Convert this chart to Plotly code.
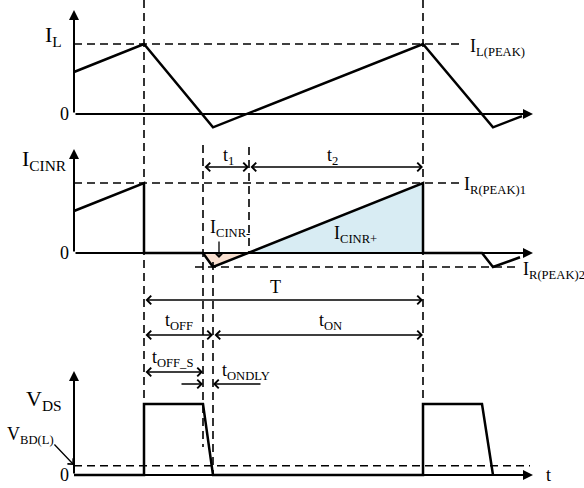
import plotly.graph_objects as go

# time instants (x units, 0 = vertical axes)
T_PEAK1 = 70      # switch off / inductor peak
T_OFFS = 129      # end of t_OFF_S
T_OFF = 139       # end of t_OFF (negative dip)
T_CROSS = 175     # I_CINR crosses zero (t1 / t2 boundary)
T_PEAK2 = 349     # next peak
T_OFFS2 = 408
T_OFF2 = 419
T_AXIS_END = 459

# inductor current I_L (normalised to I_L(PEAK))
il_t = [0, T_PEAK1, T_OFF, T_PEAK2, T_OFF2, 448]
il_v = [0.6, 1.0, -0.19, 1.0, -0.19, -0.03]

# sense current I_CINR (normalised to I_R(PEAK)1)
icinr_t = [0, T_PEAK1, T_PEAK1, T_OFFS, T_OFF, T_PEAK2, T_PEAK2, T_OFFS2, T_OFF2, 446]
icinr_v = [0.6, 1.0, 0, 0, -0.2, 1.0, 0, 0, -0.2, -0.06]
IR_PEAK2 = -0.2

# drain-source voltage V_DS (normalised)
vds_t = [0, T_PEAK1, T_PEAK1, T_OFFS, T_OFF, T_PEAK2, T_PEAK2, T_OFFS2, T_OFF2]
vds_v = [0, 0, 1, 1, 0, 0, 1, 1, 0]
VBD = 0.13

FONT = "Liberation Serif"
W, H = 584, 488
X0 = 74  # pixel column of the vertical axes

# each panel: (zero pixel row, pixels per unit)
panels = {"y": (114, 70), "y2": (253, 70), "y3": (475, 71)}


def yrange(zero_px, unit):
    return [(zero_px - H) / unit, zero_px / unit]


def top_of(ax):
    z, u = panels[ax]
    return z / u


def px_to(ax, py):
    z, u = panels[ax]
    return (z - py) / u


fig = go.Figure()

BLACK = "black"
WAVE = dict(color=BLACK, width=2.5)
DASH = dict(color=BLACK, width=1.6, dash="8px,5px")


def line(x, y, ax, style):
    fig.add_trace(go.Scatter(x=x, y=y, yaxis=ax, mode="lines", line=style,
                             hoverinfo="skip", showlegend=False))


# shaded areas of I_CINR
fig.add_trace(go.Scatter(x=[T_OFFS, T_OFF, T_CROSS], y=[0, IR_PEAK2, 0], yaxis="y2",
                         fill="toself", fillcolor="rgb(250,224,208)", mode="none",
                         hoverinfo="skip", showlegend=False))
fig.add_trace(go.Scatter(x=[T_CROSS, T_PEAK2, T_PEAK2], y=[0, 1, 0], yaxis="y2",
                         fill="toself", fillcolor="rgb(216,236,243)", mode="none",
                         hoverinfo="skip", showlegend=False))

# dashed guides
line([0, 386], [1, 1], "y", DASH)
line([0, 386], [1, 1], "y2", DASH)
line([121, 443], [IR_PEAK2, IR_PEAK2], "y2", DASH)
line([0, 456], [VBD, VBD], "y3", DASH)
line([T_PEAK1, T_PEAK1], [top_of("y3"), 1], "y3", DASH)
line([T_PEAK2, T_PEAK2], [top_of("y3"), 1], "y3", DASH)
line([T_OFFS, T_OFFS], [px_to("y3", 145), px_to("y3", 447)], "y3", DASH)
line([T_OFF, T_OFF], [px_to("y3", 262), 0], "y3", DASH)
line([T_CROSS, T_CROSS], [px_to("y2", 147), 0], "y2", DASH)

# waveforms
line(il_t, il_v, "y", WAVE)
line(icinr_t, icinr_v, "y2", WAVE)
line(vds_t, vds_v, "y3", WAVE)

ann = []


def axis_arrow(ax, x, y, tx, ty):
    ann.append(dict(x=x, y=y, ax=tx, ay=ty, xref="x", yref=ax, axref="x", ayref=ax,
                    text="", showarrow=True, arrowhead=2, arrowsize=1, arrowwidth=2,
                    arrowcolor=BLACK, standoff=0))


for ax in panels:
    axis_arrow(ax, 0, px_to(ax, panels[ax][0] - 104), 0, 0)
    axis_arrow(ax, T_AXIS_END, 0, 0, 0)


def dim(ax, x1, x2, py, both=True):
    y = px_to(ax, py)
    ann.append(dict(x=x2, y=y, ax=x1, ay=y, xref="x", yref=ax, axref="x", ayref=ax,
                    text="", showarrow=True, arrowhead=4, arrowsize=1.3, arrowwidth=1.3,
                    startarrowhead=4, startarrowsize=1.3,
                    arrowside="end+start" if both else "end",
                    arrowcolor=BLACK, standoff=0, startstandoff=0))


dim("y2", T_OFFS, T_CROSS, 167)
dim("y2", T_CROSS, T_PEAK2, 167)
dim("y3", T_PEAK1, T_PEAK2, 300)
dim("y3", T_PEAK1, T_OFF, 335)
dim("y3", T_OFF, T_PEAK2, 335)
dim("y3", T_PEAK1, T_OFFS, 372)
dim("y3", 106, T_OFFS, 384, both=False)
dim("y3", 188, T_OFF, 384, both=False)

# small pointer arrows
ann.append(dict(x=145, y=px_to("y2", 258), ax=145, ay=px_to("y2", 240), xref="x", yref="y2",
                axref="x", ayref="y2", text="", showarrow=True, arrowhead=4, arrowsize=1.2,
                arrowwidth=1.3, arrowcolor=BLACK, standoff=0))
ann.append(dict(x=0, y=px_to("y3", 465), ax=-21, ay=px_to("y3", 443), xref="x", yref="y3",
                axref="x", ayref="y3", text="", showarrow=True, arrowhead=4, arrowsize=1.2,
                arrowwidth=1.3, arrowcolor=BLACK, standoff=0))


def label(ax, x, py, text, size=18, xanchor="center"):
    ann.append(dict(x=x, y=px_to(ax, py), xref="x", yref=ax, text=text, showarrow=False,
                    xanchor=xanchor, yanchor="middle",
                    font=dict(family=FONT, size=size, color=BLACK)))


label("y", -10, 36, "I<sub>L</sub>", 22, "right")
label("y", -3, 114, "0", 18, "right")
label("y", 394, 47, "I<sub>L(PEAK)</sub>", 18, "left")
label("y2", -5, 160, "I<sub>CINR</sub>", 22, "right")
label("y2", -3, 253, "0", 18, "right")
label("y2", 154, 156, "t<sub>1</sub>", 18)
label("y2", 258, 156, "t<sub>2</sub>", 18)
label("y2", 134, 228, "I<sub>CINR-</sub>", 18, "left")
label("y2", 281, 234, "I<sub>CINR+</sub>", 18)
label("y2", 388, 185, "I<sub>R(PEAK)1</sub>", 18, "left")
label("y2", 447, 270, "I<sub>R(PEAK)2</sub>", 18, "left")
label("y3", 201, 287, "T", 18)
label("y3", 105, 321, "t<sub>OFF</sub>", 18)
label("y3", 256, 321, "t<sub>ON</sub>", 18)
label("y3", 98, 358, "t<sub>OFF_S</sub>", 18)
label("y3", 146, 371, "t<sub>ONDLY</sub>", 18, "left")
label("y3", -10, 400, "V<sub>DS</sub>", 22, "right")
label("y3", -18, 435, "V<sub>BD(L)</sub>", 18, "right")
label("y3", -3, 475, "0", 18, "right")
label("y3", 474, 475, "t", 18)

hidden = dict(visible=False, fixedrange=True)
fig.update_layout(
    width=W, height=H,
    margin=dict(l=0, r=0, t=0, b=0),
    paper_bgcolor="white", plot_bgcolor="white",
    showlegend=False,
    xaxis=dict(range=[-X0, W - X0], **hidden),
    yaxis=dict(range=yrange(*panels["y"]), **hidden),
    yaxis2=dict(range=yrange(*panels["y2"]), overlaying="y", **hidden),
    yaxis3=dict(range=yrange(*panels["y3"]), overlaying="y", **hidden),
    annotations=ann,
)

# the page body has a default 8px margin; drop it so the figure fills the window
fig.write_html("out.html", config={"displayModeBar": False},
               post_script="document.body.style.margin='0';document.body.style.overflow='hidden';")
